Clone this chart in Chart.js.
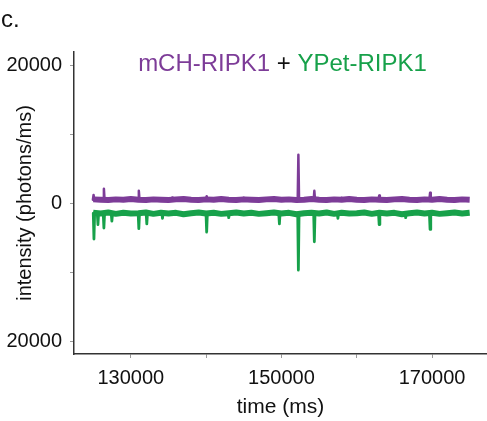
<!DOCTYPE html>
<html lang="en">
<head>
    <meta charset="UTF-8">
    <title>mCH-RIPK1 + YPet-RIPK1</title>
    <script src="https://cdn.jsdelivr.net/npm/chart.js"></script>
    <style>
        body { margin: 0; background: #fff; }
        .container { width: 487px; height: 421px; }
    </style>
</head>
<body>
    <div class="container">
        <canvas id="traceChart" width="487" height="421"></canvas>
    </div>
    <script>
        // sample times of the baseline traces (ms)
        const sampleTimes = [
            125000, 126000, 127000, 128000, 129000, 130000, 131000, 132000, 133000, 134000,
            135000, 136000, 137000, 138000, 139000, 140000, 141000, 142000, 143000, 144000,
            145000, 146000, 147000, 148000, 149000, 150000, 151000, 152000, 153000, 154000,
            155000, 156000, 157000, 158000, 159000, 160000, 161000, 162000, 163000, 164000,
            165000, 166000, 167000, 168000, 169000, 170000, 171000, 172000, 173000, 174000,
            175000
        ];
        // baseline intensity, mCH-RIPK1 (purple)
        const mchValues = [
            650, 600, 550, 650, 600, 700, 600, 550, 650, 600,
            550, 650, 700, 600, 550, 650, 600, 700, 600, 550,
            650, 600, 550, 650, 700, 600, 650, 550, 600, 700,
            600, 550, 650, 600, 700, 600, 550, 650, 600, 550,
            650, 700, 600, 550, 650, 600, 700, 600, 550, 650,
            600
        ];
        // baseline intensity, YPet-RIPK1 (green, plotted negative)
        const ypetValues = [
            -1300, -1400, -1250, -1450, -1300, -1400, -1350, -1250, -1450, -1300,
            -1400, -1300, -1500, -1350, -1250, -1400, -1300, -1450, -1350, -1250,
            -1400, -1300, -1450, -1350, -1250, -1400, -1300, -1500, -1350, -1300,
            -1400, -1250, -1450, -1300, -1400, -1350, -1250, -1450, -1300, -1400,
            -1300, -1500, -1350, -1250, -1400, -1300, -1450, -1350, -1250, -1400,
            -1300
        ];

        // spikes (ms, peak value)
        const mchSpikeTimes = [125050, 126420, 131060, 135500, 140070, 145000, 152250, 154370, 158000, 162980, 166000, 169740];
        const mchSpikeValues = [1300, 2200, 1900, 900, 1100, 900, 7100, 1900, 900, 1200, 900, 1600];
        const mchBase = 600;

        const ypetSpikeTimes = [
            125100, 125630, 126420, 127480, 131060, 132120, 134200, 140070, 143000,
            149730, 152250, 154370, 157500, 162980, 166500, 169740
        ];
        const ypetSpikeValues = [
            -5100, -3000, -3500, -2500, -3600, -2900, -2100, -4100, -2000,
            -2900, -9600, -5500, -2100, -3000, -2000, -3700
        ];
        const ypetBase = -1350;

        const xTicks = [130000, 140000, 150000, 160000, 170000];
        const xLabels = [130000, 150000, 170000];
        const yTicks = [-20000, -10000, 0, 10000, 20000];
        const yLabels = ['20000', '', '0', '', '20000'];

        const purple = '#7d3c98';
        const green = '#17a14a';
        const font = 'Liberation Sans, Arial, sans-serif';

        const toPoints = (ts, vs) => ts.map((t, i) => ({ x: t, y: vs[i] }));
        // each spike rises from the baseline and falls back; null breaks the line between spikes
        const spikePoints = (ts, vs, base) => ts.flatMap((t, i) => [
            { x: t - 90, y: base }, { x: t, y: vs[i] }, { x: t + 90, y: base }, { x: t + 91, y: null }
        ]);

        // draws the two-colour title and the panel letter
        const titlePlugin = {
            id: 'titleText',
            afterDraw(chart) {
                const ctx = chart.ctx;
                const area = chart.chartArea;
                ctx.save();
                ctx.textBaseline = 'middle';
                ctx.font = '24px ' + font;
                ctx.fillStyle = '#111';
                ctx.textAlign = 'left';
                ctx.fillText('c.', 1, 20);

                const parts = [['mCH-RIPK1', purple], [' + ', '#111'], ['YPet-RIPK1', green]];
                const total = parts.reduce((s, p) => s + ctx.measureText(p[0]).width, 0);
                let x = (area.left + area.right) / 2 + 2 - total / 2;
                parts.forEach(p => {
                    ctx.fillStyle = p[1];
                    ctx.fillText(p[0], x, 64);
                    x += ctx.measureText(p[0]).width;
                });
                ctx.restore();
            }
        };

        const lineStyle = (color, width, cap) => ({
            borderColor: color,
            borderWidth: width,
            borderJoinStyle: 'round',
            borderCapStyle: cap,
            pointRadius: 0,
            tension: 0,
            spanGaps: false
        });

        const ctx = document.getElementById('traceChart').getContext('2d');
        new Chart(ctx, {
            type: 'line',
            data: {
                datasets: [
                    { label: 'mCH-RIPK1', data: toPoints(sampleTimes, mchValues), ...lineStyle(purple, 6, 'butt') },
                    { label: 'mCH-RIPK1 spikes', data: spikePoints(mchSpikeTimes, mchSpikeValues, mchBase), ...lineStyle(purple, 2.5, 'round') },
                    { label: 'YPet-RIPK1', data: toPoints(sampleTimes, ypetValues), ...lineStyle(green, 6, 'butt') },
                    { label: 'YPet-RIPK1 spikes', data: spikePoints(ypetSpikeTimes, ypetSpikeValues, ypetBase), ...lineStyle(green, 2.8, 'round') }
                ]
            },
            options: {
                responsive: false,
                animation: false,
                layout: { padding: { top: 52, right: 0, bottom: 0, left: 0 } },
                plugins: {
                    legend: { display: false },
                    tooltip: { enabled: false }
                },
                scales: {
                    x: {
                        type: 'linear',
                        min: 122450,
                        max: 177300,
                        afterBuildTicks: axis => { axis.ticks = xTicks.map(v => ({ value: v })); },
                        afterFit: axis => { axis.height = 67; },
                        ticks: {
                            color: '#111',
                            font: { family: font, size: 20 },
                            padding: 8,
                            maxRotation: 0,
                            callback: v => xLabels.includes(v) ? String(v) : ''
                        },
                        grid: { drawOnChartArea: false, drawTicks: true, tickLength: 4, tickColor: '#999' },
                        border: { display: true, color: '#333', width: 1.5 },
                        title: {
                            display: true,
                            text: 'time (ms)',
                            color: '#111',
                            font: { family: font, size: 21 },
                            padding: { top: 0, bottom: 1 }
                        }
                    },
                    y: {
                        min: -21750,
                        max: 22000,
                        afterBuildTicks: axis => { axis.ticks = yTicks.map(v => ({ value: v })); },
                        afterFit: axis => { axis.width = 74; },
                        ticks: {
                            color: '#111',
                            font: { family: font, size: 20 },
                            padding: 8,
                            callback: (v, i) => yLabels[i]
                        },
                        grid: { drawOnChartArea: false, drawTicks: true, tickLength: 4, tickColor: '#999' },
                        border: { display: true, color: '#333', width: 1.5 },
                        title: {
                            display: true,
                            text: 'intensity (photons/ms)',
                            color: '#111',
                            font: { family: font, size: 20 },
                            padding: { top: 13, bottom: 0 }
                        }
                    }
                }
            },
            plugins: [titlePlugin]
        });
    </script>
</body>
</html>
